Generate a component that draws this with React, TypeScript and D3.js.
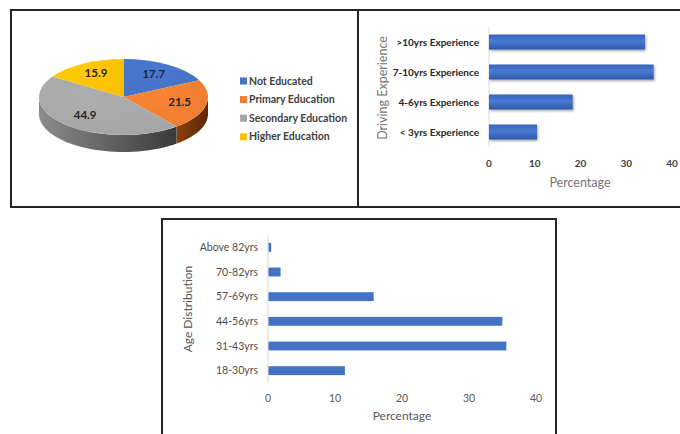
import { useRef, useEffect } from "react";
import * as d3 from "d3";

const eduLabels = ["Not Educated", "Primary Education", "Secondary Education", "Higher Education"];
const eduValues = [17.7, 21.5, 44.9, 15.9];
const eduColors = ["#4472C4", "#ED7D31", "#A5A5A5", "#FFC000"];
const eduSideColors = [["#2f4f8a", "#22396a"], ["#8a3f0e", "#5c2806"], ["#8c8c8c", "#3a3a3a"], ["#b38600", "#7a5c00"]];

const expLabels = [">10yrs Experience", "7-10yrs Experience", "4-6yrs Experience", "< 3yrs Experience"];
const expValues = [34.1, 36.0, 18.3, 10.5];

const ageLabels = ["Above 82yrs", "70-82yrs", "57-69yrs", "44-56yrs", "31-43yrs", "18-30yrs"];
const ageValues = [0.4, 1.8, 15.7, 34.9, 35.5, 11.4];

const xTicks = [0, 10, 20, 30, 40];

const FONT = "Lato, 'Open Sans', sans-serif";

export default function App() {
  const ref = useRef<SVGSVGElement>(null);

  useEffect(() => {
    const svg = d3.select(ref.current);
    svg.selectAll("*").remove();
    svg.attr("width", 680).attr("height", 434).style("font-family", FONT);

    const defs = svg.append("defs");

    // panel frames
    svg.append("rect").attr("x", 11).attr("y", 10).attr("width", 347).attr("height", 197)
      .attr("fill", "none").attr("stroke", "#262626").attr("stroke-width", 2);
    svg.append("rect").attr("x", 358).attr("y", 10).attr("width", 330).attr("height", 197)
      .attr("fill", "none").attr("stroke", "#262626").attr("stroke-width", 2);
    svg.append("rect").attr("x", 162).attr("y", 219).attr("width", 394).attr("height", 230)
      .attr("fill", "none").attr("stroke", "#262626").attr("stroke-width", 2);

    drawPie();
    drawExperience();
    drawAge();

    function drawPie() {
      const cx = 123.5, cy = 97, rx = 84.5, ry = 38, depth = 17;
      const arcs = d3.pie<number>().sort(null)(eduValues);
      const pt = (a: number, dy = 0): [number, number] => [cx + rx * Math.sin(a), cy - ry * Math.cos(a) + dy];
      const line = d3.line();

      // side walls
      arcs.forEach((d, i) => {
        const a0 = Math.max(d.startAngle, Math.PI / 2);
        const a1 = Math.min(d.endAngle, 3 * Math.PI / 2);
        if (a1 <= a0) return;
        const gid = `side${i}`;
        const g = defs.append("linearGradient").attr("id", gid)
          .attr("gradientUnits", "userSpaceOnUse")
          .attr("x1", pt(a1)[0]).attr("x2", pt(a0)[0]).attr("y1", 0).attr("y2", 0);
        g.append("stop").attr("offset", "0%").attr("stop-color", eduSideColors[i][0]);
        g.append("stop").attr("offset", "100%").attr("stop-color", eduSideColors[i][1]);
        const steps = d3.range(0, 41).map(k => a0 + (a1 - a0) * k / 40);
        const pts = [...steps.map(a => pt(a)), ...steps.reverse().map(a => pt(a, depth))];
        svg.append("path").attr("d", line(pts) + "Z").attr("fill", `url(#${gid})`);
      });

      // top faces
      const arc = d3.arc<d3.PieArcDatum<number>>().innerRadius(0).outerRadius(rx);
      const top = svg.append("g").attr("transform", `translate(${cx},${cy}) scale(1,${ry / rx})`);
      arcs.forEach((d, i) => {
        const gid = `top${i}`;
        const g = defs.append("radialGradient").attr("id", gid)
          .attr("cx", "35%").attr("cy", "30%").attr("r", "80%");
        g.append("stop").attr("offset", "0%").attr("stop-color", d3.color(eduColors[i])!.brighter(0.15).formatHex());
        g.append("stop").attr("offset", "100%").attr("stop-color", eduColors[i]);
        top.append("path").attr("d", arc(d)).attr("fill", `url(#${gid})`);
      });

      // value labels
      arcs.forEach((d, i) => {
        const mid = (d.startAngle + d.endAngle) / 2;
        const [x, y] = pt(mid);
        const k = 0.68;
        svg.append("text")
          .attr("x", cx + (x - cx) * k).attr("y", cy + (y - cy) * k - 1)
          .attr("dy", "0.35em").attr("text-anchor", "middle")
          .attr("font-size", 11.5).attr("font-weight", "bold").attr("fill", "#262626")
          .text(eduValues[i].toFixed(1));
      });

      // legend
      const leg = svg.append("g");
      eduLabels.forEach((lab, i) => {
        const y = 81 + i * 18.6;
        leg.append("rect").attr("x", 240).attr("y", y - 3.5).attr("width", 7).attr("height", 7).attr("fill", eduColors[i]);
        leg.append("text").attr("x", 249).attr("y", y).attr("dy", "0.35em")
          .attr("font-size", 10.5).attr("font-weight", "bold").attr("fill", "#404040").text(lab);
      });
    }

    function drawExperience() {
      const x = d3.scaleLinear().domain([0, 40]).range([489, 672]);
      const y = d3.scaleBand<string>().domain(expLabels).range([27, 147]).paddingInner(0.5).paddingOuter(0.25);

      const g = defs.append("linearGradient").attr("id", "barGrad").attr("x1", 0).attr("x2", 0).attr("y1", 0).attr("y2", 1);
      g.append("stop").attr("offset", "0%").attr("stop-color", "#3563bd");
      g.append("stop").attr("offset", "45%").attr("stop-color", "#4a7bd3");
      g.append("stop").attr("offset", "100%").attr("stop-color", "#2c57a8");
      const f = defs.append("filter").attr("id", "barShadow").attr("x", "-10%").attr("y", "-30%").attr("width", "130%").attr("height", "180%");
      f.append("feDropShadow").attr("dx", 1).attr("dy", 1.5).attr("stdDeviation", 1).attr("flood-color", "#000").attr("flood-opacity", 0.35);

      svg.append("line").attr("x1", x(0)).attr("x2", x(0)).attr("y1", 27).attr("y2", 147)
        .attr("stroke", "#d9d9d9").attr("stroke-width", 1);

      svg.append("g").selectAll("rect").data(expValues).join("rect")
        .attr("x", x(0)).attr("y", (_, i) => y(expLabels[i])!)
        .attr("width", d => x(d) - x(0)).attr("height", y.bandwidth())
        .attr("fill", "url(#barGrad)").attr("filter", "url(#barShadow)");

      svg.append("g").selectAll("text").data(expLabels).join("text")
        .attr("x", 479).attr("y", d => y(d)! + y.bandwidth() / 2).attr("dy", "0.35em")
        .attr("text-anchor", "end").attr("font-size", 10).attr("font-weight", "bold").attr("fill", "#262626")
        .text(d => d);

      svg.append("g").selectAll("text").data(xTicks).join("text")
        .attr("x", d => x(d)).attr("y", 163).attr("dy", "0.35em").attr("text-anchor", "middle")
        .attr("font-size", 10).attr("font-weight", "bold").attr("fill", "#404040").text(d => d);

      svg.append("text").attr("x", 580).attr("y", 183).attr("dy", "0.35em").attr("text-anchor", "middle")
        .attr("font-size", 12.5).attr("fill", "#757575").text("Percentage");
      svg.append("text").attr("transform", "translate(383,88) rotate(-90)").attr("dy", "0.35em").attr("text-anchor", "middle")
        .attr("font-size", 12.5).attr("fill", "#757575").text("Driving Experience");
    }

    function drawAge() {
      const x = d3.scaleLinear().domain([0, 40]).range([268, 536]);
      const y = d3.scaleBand<string>().domain(ageLabels).range([235, 383]).paddingInner(0.64).paddingOuter(0.32);

      svg.append("line").attr("x1", x(0)).attr("x2", x(0)).attr("y1", 235).attr("y2", 383)
        .attr("stroke", "#d9d9d9").attr("stroke-width", 1);

      svg.append("g").selectAll("rect").data(ageValues).join("rect")
        .attr("x", x(0) + 0.5).attr("y", (_, i) => y(ageLabels[i])!)
        .attr("width", d => x(d) - x(0)).attr("height", y.bandwidth())
        .attr("fill", "#4472C4");

      svg.append("g").selectAll("text").data(ageLabels).join("text")
        .attr("x", 258).attr("y", d => y(d)! + y.bandwidth() / 2).attr("dy", "0.35em")
        .attr("text-anchor", "end").attr("font-size", 10.5).attr("fill", "#4d4d4d")
        .text(d => d);

      svg.append("g").selectAll("text").data(xTicks).join("text")
        .attr("x", d => x(d)).attr("y", 398).attr("dy", "0.35em").attr("text-anchor", "middle")
        .attr("font-size", 10.5).attr("fill", "#595959").text(d => d);

      svg.append("text").attr("x", 402).attr("y", 416).attr("dy", "0.35em").attr("text-anchor", "middle")
        .attr("font-size", 12).attr("fill", "#595959").text("Percentage");
      svg.append("text").attr("transform", "translate(188,309) rotate(-90)").attr("dy", "0.35em").attr("text-anchor", "middle")
        .attr("font-size", 12).attr("fill", "#595959").text("Age Distribution");
    }
  }, []);

  return <svg ref={ref} style={{ position: "absolute", left: 0, top: 0, display: "block" }}></svg>;
}
